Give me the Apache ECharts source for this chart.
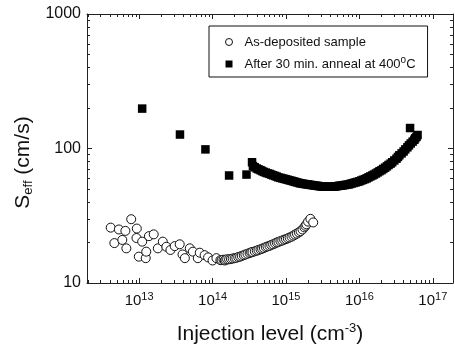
<!DOCTYPE html>
<html>
<head>
<meta charset="utf-8">
<script src="https://cdn.jsdelivr.net/npm/echarts@6/dist/echarts.min.js"></script>
<style>
html, body { margin: 0; padding: 0; background: #fff; }
#chart { width: 455px; height: 352px; }
</style>
</head>
<body>
<div id="chart"></div>
<script>
// as-deposited sample (open circles): injection level cm^-3, Seff cm/s
var depX = [4.1e12, 4.6e12, 5.3e12, 5.9e12, 6.5e12, 6.7e12, 7.8e12, 9.2e12, 9.3e12, 9.9e12,
  1.1e13, 1.23e13, 1.25e13, 1.36e13, 1.58e13, 1.8e13, 2.1e13, 2.35e13, 2.67e13, 3.05e13,
  3.57e13, 3.9e13, 4.2e13, 4.9e13, 5.4e13, 6.3e13, 6.7e13, 7.8e13, 8.7e13, 1.0e14,
  1.13e14, 1.28e14, 1.33e14, 1.41e14, 1.47e14, 1.5e14, 1.58e14, 1.68e14, 1.78e14, 1.88e14,
  2.0e14, 2.11e14, 2.24e14, 2.37e14, 2.5e14, 2.66e14, 2.8e14, 2.99e14, 3.2e14, 3.35e14,
  3.5e14, 3.76e14, 4.0e14, 4.22e14, 4.5e14, 4.73e14, 5.0e14, 5.31e14, 5.6e14, 5.96e14,
  6.3e14, 6.68e14, 7.1e14, 7.5e14, 7.9e14, 8.41e14, 8.9e14, 9.44e14, 1.0e15, 1.06e15,
  1.12e15, 1.19e15, 1.26e15, 1.33e15, 1.41e15, 1.5e15, 1.58e15, 1.68e15, 1.78e15, 1.84e15,
  1.9e15, 2.0e15, 2.15e15, 2.35e15];
var depY = [25.8, 19.8, 25, 20.9, 24.4, 18.1, 29.8, 21.6, 25.4, 15.7,
  20.3, 15.3, 17.1, 22.3, 23, 18.1, 20.3, 18.6, 17.6, 18.8,
  19.4, 16.3, 15.3, 18.1, 17.1, 15.3, 16.8, 16.1, 15.5, 14.7,
  15.3, 14.8, 14.8, 14.9, 14.7, 14.9, 15.0, 15.0, 15.1, 15.2,
  15.3, 15.4, 15.6, 15.7, 15.9, 16.1, 16.3, 16.5, 16.7, 16.9,
  17.0, 17.2, 17.4, 17.6, 17.8, 18.0, 18.2, 18.5, 18.7, 18.9,
  19.2, 19.4, 19.7, 20.0, 20.2, 20.5, 20.7, 21.0, 21.2, 21.5,
  21.8, 22.1, 22.5, 22.9, 23.3, 23.8, 24.3, 25.0, 25.9, 26.6,
  27.3, 28.6, 30.0, 28.2];

// after 30 min. anneal at 400 C (filled squares)
var annX = [1.1e13, 3.6e13, 8.0e13, 1.68e14, 2.9e14, 3.45e14,
  3.55e14, 3.76e14, 4.0e14, 4.22e14, 4.5e14, 4.73e14, 5.0e14, 5.31e14, 5.6e14, 5.96e14,
  6.3e14, 6.68e14, 7.1e14, 7.5e14, 7.9e14, 8.41e14, 8.9e14, 9.44e14, 1.0e15, 1.06e15,
  1.12e15, 1.19e15, 1.26e15, 1.33e15, 1.41e15, 1.5e15, 1.58e15, 1.68e15, 1.78e15, 1.88e15,
  2.0e15, 2.11e15, 2.24e15, 2.37e15, 2.5e15, 2.66e15, 2.8e15, 2.99e15, 3.2e15, 3.35e15,
  3.5e15, 3.76e15, 4.0e15, 4.22e15, 4.5e15, 4.73e15, 5.0e15, 5.31e15, 5.6e15, 5.96e15,
  6.3e15, 6.68e15, 7.1e15, 7.5e15, 7.9e15, 8.41e15, 8.9e15, 9.44e15, 1.0e16, 1.06e16,
  1.12e16, 1.19e16, 1.26e16, 1.33e16, 1.41e16, 1.5e16, 1.58e16, 1.68e16, 1.78e16, 1.88e16,
  2.0e16, 2.11e16, 2.24e16, 2.37e16, 2.5e16, 2.66e16, 2.8e16, 2.99e16, 3.2e16, 3.35e16,
  3.5e16, 3.76e16, 4.0e16, 4.22e16, 4.5e16, 4.73e16, 5.0e16, 5.31e16, 5.6e16, 5.75e16,
  6.0e16, 4.9e16, 6.2e16];
var annY = [198, 127, 98.5, 63, 64, 79,
  74, 72.5, 71, 70, 69, 68, 67, 66.2, 65.5, 64.8,
  64, 63.2, 62.5, 61.8, 61, 60.5, 60, 59.5, 59, 58.5,
  58, 57.5, 57, 56.5, 56, 55.5, 55, 54.8, 54.5, 54.2,
  54, 53.7, 53.5, 53.2, 53, 52.8, 52.5, 52.2, 52, 52,
  52, 52, 52, 52, 52, 52.2, 52.5, 52.8, 53, 53.2,
  53.5, 53.8, 54, 54.5, 55, 55.5, 56, 56.5, 57, 57.8,
  58.5, 59.2, 60, 61, 62, 63, 64, 65.2, 66.5, 67.8,
  69, 70.5, 72, 73.7, 75.5, 77.2, 79, 81.5, 84, 86.5,
  89, 92, 95, 98.5, 102, 105.5, 109, 112.5, 116, 119,
  122, 142, 126];

var seriesNames = ['As-deposited sample', 'After 30 min. anneal at 400oC'];
var xDecades = [13, 14, 15, 16, 17];
var yDecades = [1, 2, 3];
var xMin = 12.29, xMax = 17.275;
var yMin = 1, yMax = 3;

var FONT = 'Liberation Sans, Arial, sans-serif';
var AX = '#222';

function pairs(xs, ys) {
  var out = [];
  for (var i = 0; i < xs.length; i++) out.push([Math.log10(xs[i]), Math.log10(ys[i])]);
  return out;
}
function minors(lo, hi) {
  var out = [];
  for (var n = Math.floor(lo); n < hi; n++) {
    for (var k = 2; k <= 9; k++) {
      var v = n + Math.log10(k);
      if (v > lo && v < hi) out.push(v);
    }
  }
  return out;
}

function xAxisDef(pos, major, withLabel) {
  return {
    type: 'value', position: pos, min: xMin, max: xMax,
    axisLine: { show: major, lineStyle: { color: AX, width: 1 } },
    axisTick: { show: true, inside: true, length: major ? 5 : 3,
      customValues: major ? xDecades : minors(xMin, xMax),
      lineStyle: { color: AX } },
    axisLabel: withLabel ? {
      show: true, margin: 8, customValues: xDecades,
      formatter: function (v) { return '{b|10}{s|' + Math.round(v) + '}'; },
      rich: {
        b: { fontFamily: FONT, fontSize: 15, color: '#111' },
        s: { fontFamily: FONT, fontSize: 11, color: '#111', verticalAlign: 'bottom', padding: [0, 0, 9, 0] }
      }
    } : { show: false },
    splitLine: { show: false }
  };
}
function yAxisDef(pos, major, withLabel) {
  return {
    type: 'value', position: pos, min: yMin, max: yMax,
    axisLine: { show: major, lineStyle: { color: AX, width: 1 } },
    axisTick: { show: true, inside: true, length: major ? 5 : 3,
      customValues: major ? yDecades : minors(yMin, yMax),
      lineStyle: { color: AX } },
    axisLabel: withLabel ? {
      show: true, margin: 6, customValues: yDecades,
      fontFamily: FONT, fontSize: 16, color: '#111',
      formatter: function (v) { return String(Math.round(Math.pow(10, v))); }
    } : { show: false },
    splitLine: { show: false }
  };
}

var xAxes = [xAxisDef('bottom', true, true), xAxisDef('bottom', false, false),
  xAxisDef('top', true, false), xAxisDef('top', false, false)];
xAxes[0].name = '{t|Injection level (cm}{s|-3}{t|)}';
xAxes[0].nameLocation = 'middle';
xAxes[0].nameGap = 39;
xAxes[0].nameTextStyle = {
  rich: {
    t: { fontFamily: FONT, fontSize: 21, color: '#111' },
    s: { fontFamily: FONT, fontSize: 13, color: '#111', verticalAlign: 'bottom', padding: [0, 0, 11, 0] }
  }
};

var yAxes = [yAxisDef('left', true, true), yAxisDef('left', false, false),
  yAxisDef('right', true, false), yAxisDef('right', false, false)];
yAxes[0].name = '{t|S}{s|eff}{t| (cm/s)}';
yAxes[0].nameLocation = 'middle';
yAxes[0].nameRotate = 90;
yAxes[0].nameGap = 50;
yAxes[0].nameTextStyle = {
  padding: [0, 28, 0, 0],
  rich: {
    t: { fontFamily: FONT, fontSize: 21, color: '#111' },
    s: { fontFamily: FONT, fontSize: 13, color: '#111', verticalAlign: 'top', padding: [9, 0, 0, 0] }
  }
};

var chart = echarts.init(document.getElementById('chart'), null, { renderer: 'canvas' });
chart.setOption({
  animation: false,
  backgroundColor: '#fff',
  grid: { left: 87, right: 2, top: 14, bottom: 69, containLabel: false },
  legend: {
    orient: 'vertical', left: 209, top: 26,
    padding: [9, 12, 6, 16],
    itemGap: 6, itemWidth: 7, itemHeight: 7,
    borderColor: '#111', borderWidth: 1, borderRadius: 0,
    data: [
      { name: seriesNames[0], icon: 'circle', itemStyle: { color: '#fff', borderColor: '#111', borderWidth: 1 } },
      { name: seriesNames[1], icon: 'rect', itemStyle: { color: '#000', borderWidth: 0 } }
    ],
    formatter: function (n) {
      return n === seriesNames[1] ? 'After 30 min. anneal at 400{s|o}C' : n;
    },
    textStyle: {
      fontFamily: FONT, fontSize: 13, color: '#111', lineHeight: 14, padding: [0, 0, 0, 7],
      rich: {
        s: { fontFamily: FONT, fontSize: 10, color: '#111', lineHeight: 10, verticalAlign: 'bottom', padding: [0, 0, 6, 0] }
      }
    }
  },
  xAxis: xAxes,
  yAxis: yAxes,
  series: [
    {
      name: seriesNames[0], type: 'scatter', xAxisIndex: 0, yAxisIndex: 0,
      symbol: 'circle', symbolSize: 9,
      itemStyle: { color: '#fff', borderColor: '#111', borderWidth: 1, opacity: 1 },
      data: pairs(depX, depY)
    },
    {
      name: seriesNames[1], type: 'scatter', xAxisIndex: 0, yAxisIndex: 0,
      symbol: 'rect', symbolSize: 8.5,
      itemStyle: { color: '#000', opacity: 1 },
      data: pairs(annX, annY)
    }
  ]
});
</script>
</body>
</html>
